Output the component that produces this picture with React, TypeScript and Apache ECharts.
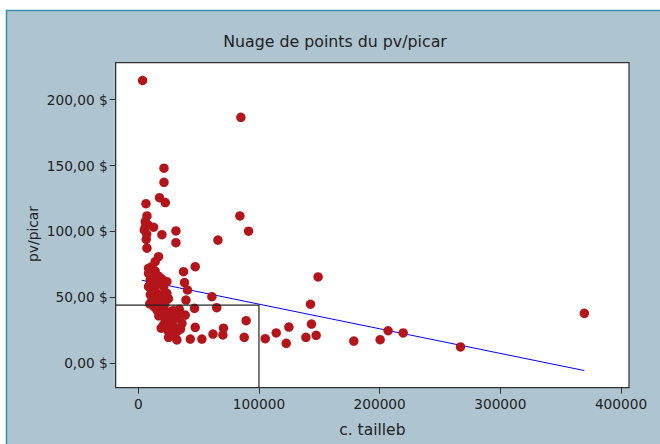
import React, { useEffect, useRef } from "react";
import * as echarts from "echarts";

// c. tailleb (x) and pv/picar (y) for each observation
const tailleb = [
  3600, 85000, 21300, 21300, 17600, 22400, 6400, 7200, 84200, 5800,
  5800, 12700, 5000, 19600, 31200, 31200, 6600, 7200, 66000, 91400,
  8000, 7000,
  16800, 14000, 11300, 8500, 8500, 9900, 8500, 11300, 15000, 15500,
  11300, 13000, 18200, 23700, 21000, 19600, 23700, 21000, 26500, 18200,
  15500, 12000, 17000, 19500, 13000, 17000, 25000, 10500, 14000, 12500,
  22000, 10000, 9500,
  26500, 33400, 38900, 30600, 21000, 19000, 27900, 36200, 25100, 32000,
  25100, 32000, 22000, 24000, 20000, 30000, 35000, 28000, 23000, 17000,
  29000, 34000,
  47200, 37500, 38300, 40800, 39500, 61000, 46600, 65000, 89400, 70600,
  70100, 61900, 52700, 43100, 47200, 87800,
  105200, 114300, 122600, 124800, 138900, 143500, 142700, 147400, 149000, 178600,
  200400, 207000, 219500, 267000, 369600,
];
const pvPicar = [
  214.5, 186.6, 148, 137.3, 125.6, 121.9, 121.1, 111.8, 111.8, 107.4,
  103.2, 103.2, 101.1, 97.6, 100.4, 91.5, 94, 87.3, 93.5, 100.2,
  105, 98,
  80.9, 77.1, 73.3, 72.1, 68.3, 63.2, 58.1, 55.6, 59.4, 53.1,
  48, 43, 46.7, 61.9, 58.1, 51.8, 53.1, 41.7, 39.1, 40,
  40.4, 62, 66, 64, 50, 47, 49, 60, 70, 66,
  45, 52, 45,
  35.4, 36.6, 36.6, 34.1, 29.1, 26.6, 30.3, 30.3, 24, 24,
  19.7, 17.7, 34, 32, 37, 27, 26, 21, 28, 36,
  40, 41,
  73.3, 69.5, 61.2, 55.6, 48, 50.5, 41.7, 42.2, 32.3, 26.6,
  21.5, 22.2, 18.4, 18.4, 27.3, 19.7,
  18.7, 23, 15.2, 27.5, 19.7, 29.8, 44.8, 21.2, 65.5, 16.9,
  17.9, 24.7, 23, 12.4, 37.9,
];
const xTicks = [0, 100000, 200000, 300000, 400000];
const yTicks = [0, 50, 100, 150, 200];
const fitX = [3000, 369600];
const fitY = [63, -5.5];
const refX = 100000;
const refY = 44.2;

const X_MIN = -18700;
const X_MAX = 406600;
const Y_MIN = -18.5;
const Y_MAX = 228;

export default function App() {
  const ref = useRef<HTMLDivElement>(null);
  useEffect(() => {
    const chart = echarts.init(ref.current!, null, { renderer: "svg" });
    const font = "DejaVu Sans";
    chart.setOption({
      animation: false,
      backgroundColor: "#ffffff",
      textStyle: { fontFamily: font },
      graphic: [
        {
          type: "rect",
          silent: true,
          z: -10,
          shape: { x: 6.5, y: 10.5, width: 700, height: 500 },
          style: { fill: "#aec5d1", stroke: "#3a8cab", lineWidth: 1.5 },
        },
        {
          type: "text",
          x: 335,
          y: 41,
          style: {
            text: "Nuage de points du pv/picar",
            fontSize: 15.8,
            fontFamily: font,
            fill: "#222",
            align: "center",
            verticalAlign: "middle",
          },
        },
        {
          type: "text",
          x: 33,
          y: 234,
          rotation: Math.PI / 2,
          style: {
            text: "pv/picar",
            fontSize: 13.8,
            fontFamily: font,
            fill: "#222",
            align: "center",
            verticalAlign: "middle",
          },
        },
      ],
      grid: {
        left: 115.7,
        top: 62.7,
        right: 31,
        bottom: 56.3,
        show: true,
        backgroundColor: "#ffffff",
        borderColor: "#333",
        borderWidth: 1.2,
      },
      xAxis: {
        type: "value",
        min: X_MIN,
        max: X_MAX,
        axisLine: { show: true, onZero: false, lineStyle: { color: "#333" } },
        axisTick: { show: true, length: 6, customValues: xTicks, lineStyle: { color: "#333" } },
        axisLabel: {
          customValues: xTicks,
          margin: 9,
          fontSize: 13.7,
          fontFamily: font,
          color: "#222",
          formatter: (v: number) => String(v),
        },
        splitLine: { show: false },
        name: "c. tailleb",
        nameLocation: "middle",
        nameGap: 34,
        nameTextStyle: { fontSize: 15.5, fontFamily: font, color: "#222" },
      },
      yAxis: {
        type: "value",
        min: Y_MIN,
        max: Y_MAX,
        axisLine: { show: true, onZero: false, lineStyle: { color: "#333" } },
        axisTick: { show: true, length: 6, customValues: yTicks, lineStyle: { color: "#333" } },
        axisLabel: {
          customValues: yTicks,
          margin: 8,
          fontSize: 13.7,
          fontFamily: font,
          color: "#222",
          formatter: (v: number) => v.toFixed(2).replace(".", ",") + " $",
        },
        splitLine: { show: false },
      },
      series: [
        {
          type: "line",
          data: fitX.map((x, i) => [x, fitY[i]]),
          symbol: "none",
          lineStyle: { color: "#0000ff", width: 1 },
          z: 1,
        },
        {
          type: "scatter",
          data: tailleb.map((x, i) => [x, pvPicar[i]]),
          symbol: "circle",
          symbolSize: 9.5,
          itemStyle: { color: "#b3151b", opacity: 1 },
          z: 2,
        },
        {
          type: "line",
          data: [
            [X_MIN, refY],
            [refX, refY],
            [refX, Y_MIN],
          ],
          symbol: "none",
          lineStyle: { color: "#222", width: 1.2 },
          z: 3,
        },
      ],
    });
    return () => chart.dispose();
  }, []);
  return (
    <div
      ref={ref}
      style={{ position: "absolute", left: 0, top: 0, width: 660, height: 444 }}
    />
  );
}
